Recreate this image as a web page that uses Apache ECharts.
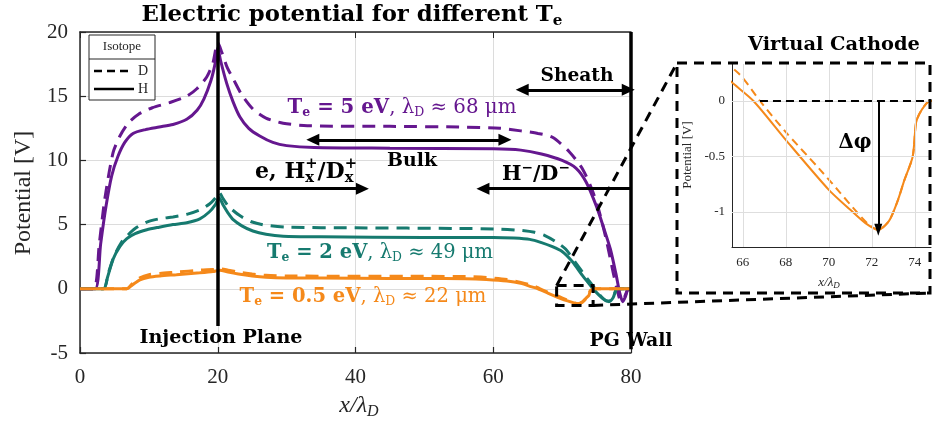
<!DOCTYPE html>
<html><head><meta charset="utf-8">
<script src="https://cdn.jsdelivr.net/npm/echarts@6/dist/echarts.min.js"></script>
<style>html,body{margin:0;padding:0;background:#fff}#c{width:932px;height:430px}</style>
</head><body><div id="c"></div>
<script>
// ---------- data ----------
const xTicks = [0, 20, 40, 60, 80];
const yTicks = [-5, 0, 5, 10, 15, 20];
const insetXTicks = [66, 68, 70, 72, 74];
const insetYTicks = [-1, -0.5, 0];

const purpleH = [[0,0],[2.2,0],[3.0,3.5],[3.8,6.5],[4.6,8.8],[5.5,10.3],[6.5,11.4],[7.7,12.1],[9.5,12.4],[11.5,12.6],[13.5,12.8],[15.5,13.2],[17,13.9],[18,14.8],[19,16.2],[19.6,17.5],[20,18.8],[20.4,17.8],[21.3,16.0],[22.2,14.6],[23.2,13.4],[24.5,12.5],[26.1,11.9],[28,11.4],[30,11.15],[34,11.0],[45,10.95],[60,10.9],[64,10.8],[67,10.5],[70,10.0],[72,9.4],[73.5,8.3],[75,6.4],[76,4.8],[77,3.1],[77.8,1.2],[78.4,-0.4],[78.8,-1.0],[79.2,-0.6],[79.6,0],[80,0]];
const purpleD = [[0,0],[2.0,0],[2.8,3.5],[3.6,7.0],[4.8,10.6],[5.8,11.9],[7,12.9],[8.5,13.6],[10.5,14.1],[13,14.5],[15.5,15.0],[17,15.6],[18.4,16.5],[19.3,17.6],[20,19.2],[20.6,18.4],[21.4,17.2],[22.2,16.4],[23.5,15.1],[25.1,14.0],[27,13.3],[29.5,12.9],[33,12.7],[45,12.65],[55,12.6],[61,12.5],[64,12.3],[66.5,12.1],[68.6,11.8],[71,10.7],[73,9.3],[74.5,7.5],[75.5,5.8],[76.5,3.6],[77.4,1.3],[78,-0.1],[78.5,-0.9],[79.0,-0.7],[79.5,-0.1],[80,0]];
const tealH = [[0,0],[3.4,0],[4.0,0.9],[4.8,2.3],[5.8,3.3],[6.8,3.9],[8,4.3],[9.7,4.6],[11.5,4.8],[13.5,5.0],[15.5,5.15],[17.4,5.45],[18.8,6.0],[19.7,6.6],[20.2,7.1],[20.8,6.5],[21.5,5.9],[22.2,5.4],[23.5,4.9],[25.1,4.5],[27,4.25],[29.5,4.1],[35,4.05],[50,4.0],[60,4.0],[63,3.95],[65.3,3.85],[67,3.6],[68.5,3.3],[70,2.9],[71.5,2.1],[73,1.0],[74.2,0.2],[75,-0.3],[76,-0.8],[76.8,-1.0],[77.4,-0.7],[78,0],[80,0]];
const tealD = [[0,0],[3.4,0],[4.1,1.2],[5.0,2.6],[6.0,3.6],[6.8,4.1],[8,4.7],[9.7,5.2],[11.5,5.45],[13.5,5.6],[15.5,5.8],[17.4,6.15],[18.8,6.6],[19.7,7.1],[20.2,7.5],[20.8,7.0],[21.6,6.4],[23.2,5.7],[25,5.2],[27,4.95],[30,4.8],[40,4.75],[55,4.7],[61,4.65],[64,4.55],[66,4.4],[67.5,4.15],[69,3.7],[70.5,3.1],[72,2.0],[73.5,0.9],[74.5,0.2],[75.5,-0.5],[76.5,-0.95],[77.1,-0.9],[77.6,-0.4],[78,0],[80,0]];
const orangeH = [[0,0],[6.8,0],[7.6,0.3],[8.7,0.7],[10,0.9],[11.6,1.0],[14,1.1],[17.4,1.25],[19.3,1.35],[20.3,1.45],[21.5,1.3],[23,1.15],[25,1.0],[27,0.9],[30,0.85],[40,0.82],[50,0.8],[56,0.78],[59,0.72],[62,0.6],[64,0.42],[65.6,0.15],[66.5,0],[68,-0.35],[70,-0.8],[71,-0.98],[71.7,-1.1],[72.3,-1.16],[72.8,-1.08],[73.2,-0.9],[73.5,-0.72],[73.9,-0.5],[74.05,-0.2],[74.2,-0.12],[74.5,-0.03],[74.7,0],[80,0]];
const orangeD = [[0,0],[6.8,0],[7.6,0.4],[8.7,0.85],[10,1.1],[11.6,1.2],[14,1.3],[17.4,1.45],[19.3,1.5],[20.3,1.55],[21.5,1.45],[23,1.3],[25,1.15],[27,1.05],[30,1.0],[40,0.98],[50,0.97],[56,0.95],[59,0.88],[62,0.72],[64,0.5],[65.8,0.25],[66.8,0],[68,-0.28],[69.6,-0.62],[70.5,-0.82],[71.3,-1.0],[71.9,-1.12],[72.3,-1.16],[72.8,-1.08],[73.2,-0.9],[73.5,-0.72],[73.9,-0.5],[74.05,-0.2],[74.2,-0.12],[74.5,-0.03],[74.7,0],[80,0]];

// annotation anchors (data coordinates)
const injectionX = 20, wallX = 80;
const sheathArrow = [[64.2, 15.5], [79.6, 15.5]];
const bulkArrow = [[33.8, 11.6], [61.7, 11.6]];
const ionArrow = [[20, 7.8], [41, 7.8]];
const negArrow = [[80, 7.8], [58.5, 7.8]];
const vcMin = [72.3, -1.16];
const zoomBox = [[69.2, 0.25], [74.5, -1.3]];

// ---------- styling ----------
const FAM = "'Liberation Serif', serif";
const CAM = "'DejaVu Serif', serif";
const COL = { purple: '#65178f', teal: '#167a6f', orange: '#f5891a' };
const AX = '#262626';

const chart = echarts.init(document.getElementById('c'));

function line(data, color, dashed, inset) {
  return {
    type: 'line', data, xAxisIndex: inset ? 2 : 0, yAxisIndex: inset ? 1 : 0,
    showSymbol: false, symbol: 'none', smooth: 0.25, silent: true, animation: false,
    lineStyle: { color, width: inset ? 2 : 3, type: dashed ? (inset ? [8, 5] : [13, 8]) : 'solid' },
    z: dashed ? 3 : 4
  };
}

const mctx = document.createElement('canvas').getContext('2d');
function fontStr(p) { return (p.i ? 'italic ' : '') + (p.b ? 'bold ' : '') + p.s + 'px ' + (p.f || FAM); }
function measure(p) { mctx.font = fontStr(p); return mctx.measureText(p.t).width; }
function compose(cx, cy, pieces, color, target) {
  if (target) {
    const nat = pieces.reduce((a, p) => a + (p.stack ? Math.max(...p.stack.map(measure)) : measure(p)), 0);
    const k = target / nat;
    const sc = q => Object.assign({}, q, { s: q.s * k, dy: (q.dy || 0) * k });
    pieces = pieces.map(p => p.stack ? { stack: p.stack.map(sc) } : sc(p));
  }
  const widths = pieces.map(p => p.stack ? Math.max(...p.stack.map(measure)) : measure(p));
  const total = widths.reduce((a, b) => a + b, 0);
  let x = cx - total / 2;
  const els = [];
  pieces.forEach((p, k) => {
    (p.stack || [p]).forEach(q => els.push({
      type: 'text', x, y: cy + (q.dy || 0), silent: true, z: 100,
      style: { text: q.t, fontSize: q.s, fontFamily: q.f || FAM, fontWeight: q.b ? 'bold' : 'normal',
        fontStyle: q.i ? 'italic' : 'normal', fill: q.c || color, align: 'left', verticalAlign: 'middle' }
    }));
    x += widths[k];
  });
  return els;
}

function arrowLine(a, b, startSym, endSym, width, dash) {
  return [
    { coord: a, symbol: startSym, symbolSize: [12, 13] },
    { coord: b, symbol: endSym, symbolSize: [12, 13], lineStyle: { color: '#000', width: width || 3, type: dash || 'solid' } }
  ];
}

const mainAxisCommon = {
  axisLine: { show: true, onZero: false, lineStyle: { color: AX, width: 1.5 } },
  axisTick: { show: true, inside: true, length: 6, lineStyle: { color: AX, width: 1.2 } },
  axisLabel: { fontFamily: FAM, fontSize: 21, color: AX },
  splitLine: { show: true, lineStyle: { color: '#dcdcdc', width: 1 } }
};

const option = {
  animation: false,
  backgroundColor: '#fff',
  grid: [
    { left: 80, top: 32, width: 551, height: 321 },
    { left: 732, top: 64, width: 199, height: 183 }
  ],
  xAxis: [
    Object.assign({ type: 'value', gridIndex: 0, min: 0, max: 80, interval: 20 }, mainAxisCommon,
      { axisLabel: Object.assign({}, mainAxisCommon.axisLabel, { margin: 14 }) }),
    { type: 'value', gridIndex: 0, position: 'top', min: 0, max: 80, interval: 20,
      axisLine: { show: true, onZero: false, lineStyle: { color: AX, width: 1.5 } },
      axisTick: { show: true, inside: true, length: 6, lineStyle: { color: AX } },
      axisLabel: { show: false }, splitLine: { show: false } },
    { type: 'value', gridIndex: 1, min: 65.5, max: 74.75,
      axisLine: { show: true, onZero: false, lineStyle: { color: AX, width: 1 } },
      axisTick: { show: true, inside: true, length: 4, customValues: insetXTicks, lineStyle: { color: AX } },
      axisLabel: { customValues: insetXTicks, fontFamily: FAM, fontSize: 13, color: AX, margin: 9 },
      splitLine: { show: false } }
  ],
  yAxis: [
    Object.assign({ type: 'value', gridIndex: 0, min: -5, max: 20, interval: 5 }, mainAxisCommon,
      { axisLabel: Object.assign({}, mainAxisCommon.axisLabel, { margin: 12 }) }),
    { type: 'value', gridIndex: 1, min: -1.315, max: 0.333,
      axisLine: { show: true, onZero: false, lineStyle: { color: AX, width: 1 } },
      axisTick: { show: true, inside: true, length: 4, customValues: insetYTicks, lineStyle: { color: AX } },
      axisLabel: { customValues: insetYTicks, fontFamily: FAM, fontSize: 13, color: AX, margin: 7 },
      splitLine: { show: false } }
  ],
  series: [
    line(purpleD, COL.purple, true), line(purpleH, COL.purple, false),
    line(tealD, COL.teal, true), line(tealH, COL.teal, false),
    line(orangeD, COL.orange, true), line(orangeH, COL.orange, false),
    // main annotations
    { type: 'line', data: [], xAxisIndex: 0, yAxisIndex: 0, z: 8, silent: true,
      markLine: { silent: true, animation: false, label: { show: false }, emphasis: { disabled: true },
        lineStyle: { color: '#000', width: 3, type: 'solid' },
        data: [
          arrowLine([injectionX, 20], [injectionX, -2.9], 'none', 'none', 3.5),
          arrowLine([wallX, 20], [wallX, -4.7], 'none', 'none', 3.5),
          arrowLine(sheathArrow[0], sheathArrow[1], 'triangle', 'triangle', 3),
          arrowLine(bulkArrow[0], bulkArrow[1], 'triangle', 'triangle', 3),
          arrowLine(ionArrow[0], ionArrow[1], 'none', 'triangle', 3),
          arrowLine(negArrow[0], negArrow[1], 'none', 'triangle', 3)
        ] } },
    // inset grid lines
    { type: 'line', data: [], xAxisIndex: 2, yAxisIndex: 1, z: 1, silent: true,
      markLine: { silent: true, animation: false, symbol: 'none', label: { show: false }, emphasis: { disabled: true },
        lineStyle: { color: '#dedede', width: 1, type: 'solid' },
        data: insetXTicks.map(v => ({ xAxis: v })).concat(insetYTicks.map(v => ({ yAxis: v }))) } },
    line(orangeD, COL.orange, true, true), line(orangeH, COL.orange, false, true),
    // inset annotations
    { type: 'line', data: [], xAxisIndex: 2, yAxisIndex: 1, z: 8, silent: true,
      markLine: { silent: true, animation: false, label: { show: false }, emphasis: { disabled: true },
        data: [
          arrowLine([66.8, 0], [74.75, 0], 'none', 'none', 2, [8, 5]),
          [{ coord: [vcMin[0], 0], symbol: 'none' },
           { coord: vcMin, symbol: 'triangle', symbolSize: [8, 12], lineStyle: { color: '#000', width: 2, type: 'solid' } }]
        ] } }
  ]
};
chart.setOption(option);

// ---------- graphic overlay ----------
const P = (pt) => chart.convertToPixel({ gridIndex: 0 }, pt);
const r0 = P(zoomBox[0]), r1 = P(zoomBox[1]);
const boxL = 677, boxT = 63, boxR = 930, boxB = 293;
const dashStyle = { stroke: '#000', lineWidth: 3, lineDash: [10, 7], fill: null };

let g = [];
g.push({ type: 'rect', silent: true, z: 90, shape: { x: r0[0], y: r0[1], width: r1[0] - r0[0], height: r1[1] - r0[1] }, style: Object.assign({}, dashStyle) });
g.push({ type: 'line', silent: true, z: 90, shape: { x1: r0[0], y1: r0[1], x2: boxL, y2: boxT }, style: Object.assign({}, dashStyle) });
g.push({ type: 'line', silent: true, z: 90, shape: { x1: r1[0], y1: r1[1], x2: boxR, y2: boxB }, style: Object.assign({}, dashStyle) });
g.push({ type: 'rect', silent: true, z: 90, shape: { x: boxL, y: boxT, width: boxR - boxL, height: boxB - boxT }, style: Object.assign({}, dashStyle) });

// legend box
g.push({ type: 'rect', silent: true, z: 95, shape: { x: 89, y: 35, width: 66, height: 65 }, style: { fill: '#fff', stroke: AX, lineWidth: 1 } });
g.push({ type: 'line', silent: true, z: 96, shape: { x1: 89, y1: 59, x2: 155, y2: 59 }, style: { stroke: AX, lineWidth: 1 } });
g.push({ type: 'text', silent: true, z: 96, x: 122, y: 47, style: { text: 'Isotope', fontFamily: FAM, fontSize: 13, fill: AX, align: 'center', verticalAlign: 'middle' } });
g.push({ type: 'line', silent: true, z: 96, shape: { x1: 94, y1: 71, x2: 130, y2: 71 }, style: { stroke: '#000', lineWidth: 2.5, lineDash: [8, 5] } });
g.push({ type: 'text', silent: true, z: 96, x: 143, y: 71, style: { text: 'D', fontFamily: FAM, fontSize: 14, fill: AX, align: 'center', verticalAlign: 'middle' } });
g.push({ type: 'line', silent: true, z: 96, shape: { x1: 94, y1: 89, x2: 134, y2: 89 }, style: { stroke: '#000', lineWidth: 2.5 } });
g.push({ type: 'text', silent: true, z: 96, x: 143, y: 89, style: { text: 'H', fontFamily: FAM, fontSize: 14, fill: AX, align: 'center', verticalAlign: 'middle' } });

// title and labels (Cambria-like look via DejaVu Serif)
const B = (t, s, dy) => ({ t, s, b: 1, f: CAM, dy });
const R = (t, s, dy) => ({ t, s, f: CAM, dy });
g = g.concat(compose(352, 15, [B('Electric potential for different T', 21), B('e', 14, 6)], '#000', 421));
g = g.concat(compose(834, 45, [B('Virtual Cathode', 18)], '#000', 172));
g = g.concat(compose(577, 76, [B('Sheath', 18)], '#000', 73));
g = g.concat(compose(412, 161, [B('Bulk', 18)], '#000', 50));
g = g.concat(compose(221, 338, [B('Injection Plane', 18)], '#000', 163));
g = g.concat(compose(631, 341, [B('PG Wall', 18)], '#000', 83));
g = g.concat(compose(306, 172, [
  B('e, H', 18),
  { stack: [B('+', 12, -6), B('x', 12, 5)] },
  B('/D', 18),
  { stack: [B('+', 12, -6), B('x', 12, 5)] }
], '#000', 102));
g = g.concat(compose(536, 175, [B('H', 18), B('−', 12, -6), B('/D', 18), B('−', 12, -6)], '#000', 68));
function teLabel(cx, cy, te, lam, color, w) {
  return compose(cx, cy, [
    B('T', 19), B('e', 12, 5), B(' = ' + te + ' eV', 19),
    R(', λ', 19), R('D', 12, 5), R(' ≈ ' + lam + ' μm', 19)
  ], color, w);
}
g = g.concat(teLabel(402, 108, '5', '68', COL.purple, 229));
g = g.concat(teLabel(380, 253, '2', '49', COL.teal, 226));
g = g.concat(teLabel(363, 297, '0.5', '22', COL.orange, 247));
g = g.concat(compose(855, 143, [B('Δφ', 22)], '#000', 33));

// axis names
g.push({ type: 'text', silent: true, z: 96, x: 24, y: 193, rotation: Math.PI / 2, style: { text: 'Potential [V]', fontFamily: FAM, fontSize: 24, fill: AX, align: 'center', verticalAlign: 'middle' } });
g = g.concat(compose(359, 406, [{ t: 'x/λ', s: 24, i: 1 }, { t: 'D', s: 16, i: 1, dy: 6 }], AX));
g.push({ type: 'text', silent: true, z: 96, x: 688, y: 155, rotation: Math.PI / 2, style: { text: 'Potential [V]', fontFamily: FAM, fontSize: 13, fill: AX, align: 'center', verticalAlign: 'middle' } });
g = g.concat(compose(829, 283, [{ t: 'x/λ', s: 13, i: 1 }, { t: 'D', s: 9, i: 1, dy: 3 }], AX));

chart.setOption({ graphic: { elements: g } });
</script>
</body></html>
